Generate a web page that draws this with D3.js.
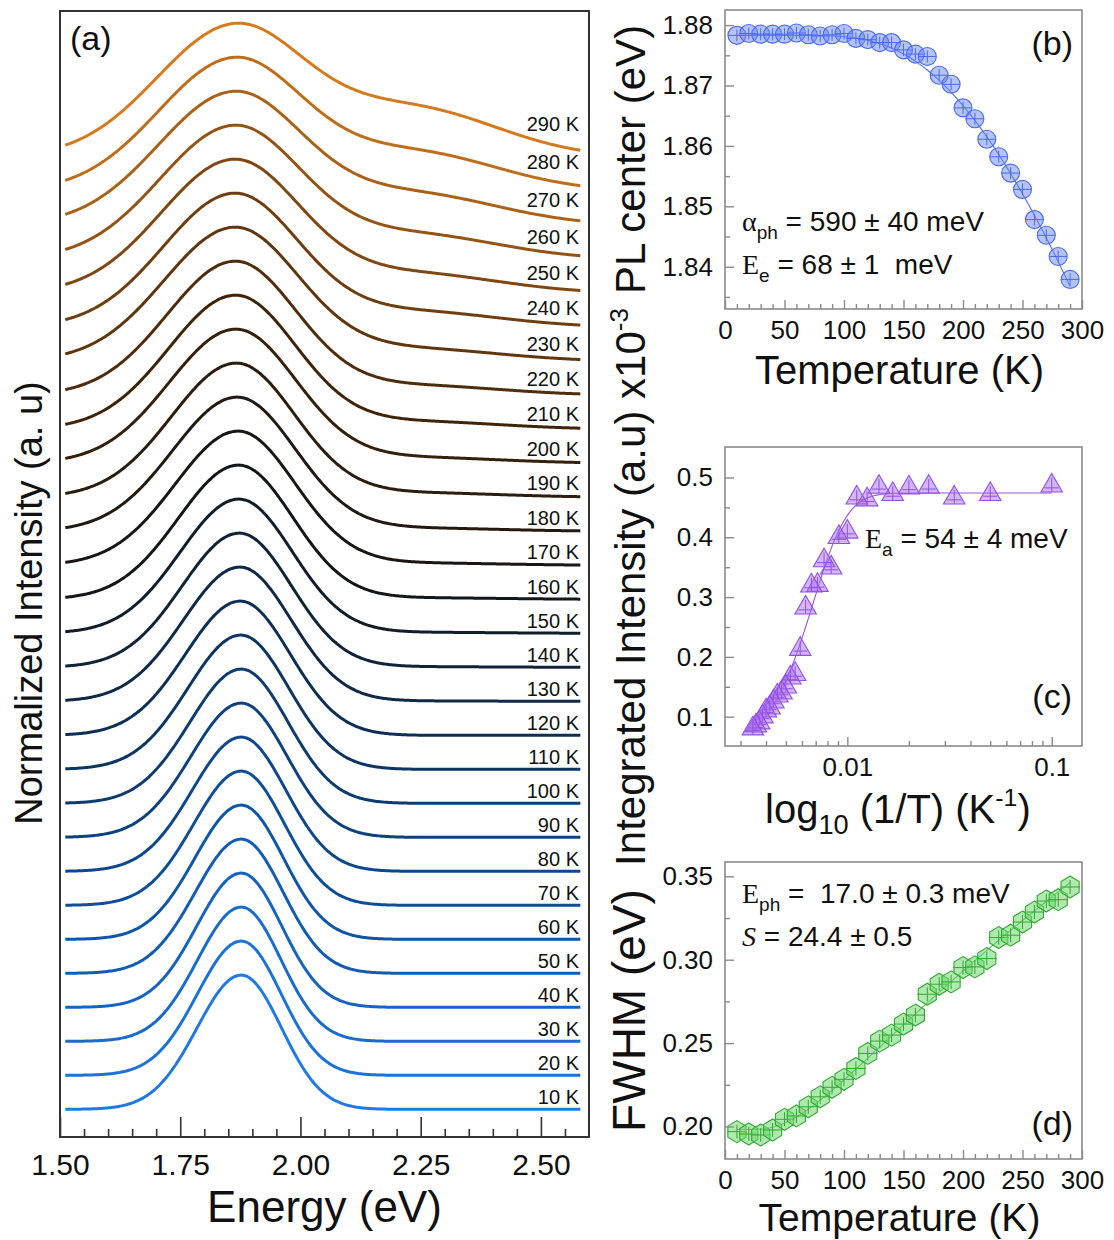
<!DOCTYPE html>
<html>
<head>
<meta charset="utf-8">
<script src="https://cdn.jsdelivr.net/npm/d3@7"></script>
<style>
  body { margin: 0; background: #fff; }
  svg { display: block; }
  text { font-family: "Liberation Sans", Arial, Helvetica, sans-serif; fill: #111; }
</style>
</head>
<body>
<svg id="fig" width="1114" height="1240"></svg>
<script>
// ---------------- data ----------------
const temperatures = [10, 20, 30, 40, 50, 60, 70, 80, 90, 100, 110, 120, 130, 140, 150,
                      160, 170, 180, 190, 200, 210, 220, 230, 240, 250, 260, 270, 280, 290];

// (a) normalized PL spectra: apparent peak energy (eV) and high-energy shoulder weight
const peakEnergy = [1.877, 1.877, 1.877, 1.877, 1.877, 1.877, 1.877, 1.877, 1.877, 1.877,
                    1.876, 1.875, 1.874, 1.873, 1.872, 1.871, 1.870, 1.868, 1.866, 1.865,
                    1.864, 1.863, 1.862, 1.861, 1.860, 1.860, 1.859, 1.859, 1.859];
const shoulderAmp = [0, 0, 0, 0, 0, 0, 0, 0, 0, 0,
                     0, 0, 0.003, 0.005, 0.008, 0.012, 0.018, 0.025, 0.035, 0.045,
                     0.06, 0.075, 0.095, 0.12, 0.15, 0.19, 0.24, 0.30, 0.38];
const shoulderCenter = 2.23;   // eV
const shoulderWidth = 0.18;    // eV (Gaussian sigma)
const lowSideStretch = 1.1;    // low-energy side of the main band is slightly broader
const spectrumRange = [1.511, 2.583];

// colours of the spectra along temperature
const colorTemps = [10, 60, 120, 165, 210, 250, 290];
const colorStops = ["#2079e4", "#0f55a8", "#0d2f55", "#141414", "#3f240a", "#7f4712", "#d57a1e"];

// (b) PL peak centre (eV)
const plCenter = [1.8783, 1.8786, 1.8785, 1.8785, 1.8785, 1.8787, 1.8784, 1.8782, 1.8784, 1.8786,
                  1.8778, 1.8776, 1.8771, 1.8771, 1.8759, 1.8752, 1.8748, 1.8717, 1.8702, 1.8663,
                  1.8645, 1.8611, 1.8582, 1.8555, 1.8528, 1.8478, 1.8452, 1.8417, 1.8379];
const bFit = { E0: 1.8783, alpha: 0.590, Ee: 0.068 };   // eV

// (c) integrated intensity (a.u. x10^-3)
const integratedIntensity = [0.486, 0.472, 0.466, 0.484, 0.483, 0.472, 0.484, 0.463, 0.466, 0.409,
                             0.400, 0.349, 0.361, 0.320, 0.319, 0.282, 0.213, 0.171, 0.165, 0.150,
                             0.140, 0.135, 0.125, 0.115, 0.110, 0.100, 0.090, 0.085, 0.080];
const cFit = { I0: 0.474, A: 45, Ea: 0.054 };

// (d) FWHM (eV)
const fwhm = [0.1969, 0.1955, 0.1949, 0.1979, 0.2043, 0.2063, 0.2118, 0.2178, 0.2235, 0.2283,
              0.2348, 0.2438, 0.2512, 0.2548, 0.2614, 0.2668, 0.2793, 0.2853, 0.2867, 0.2953,
              0.2957, 0.3007, 0.3133, 0.3147, 0.3226, 0.3286, 0.3352, 0.3360, 0.3436];
const dFit = { S: 24.4, Eph: 0.0170 };

const kB = 8.617e-5; // eV/K

// ---------------- figure ----------------
const svg = d3.select("#fig");
const serif = '"Liberation Serif", "Times New Roman", serif';

// ===== panel (a) =====
const A = { left: 60, right: 589, top: 11, bottom: 1137 };
const xA = d3.scaleLinear().domain([1.5, 2.6]).range([A.left, A.right]);
const yA = d3.scaleLinear().domain([-0.206, 8.18]).range([A.bottom, A.top]);
const offsetStep = 0.2532;
const colorA = d3.scaleLinear().domain(colorTemps).range(colorStops).interpolate(d3.interpolateRgb);
const energyGrid = d3.range(spectrumRange[0], spectrumRange[1] + 1e-9, 0.003);

function spectrum(i) {
  const c = peakEnergy[i], s = fwhm[i] / 2.3548, a = shoulderAmp[i];
  const raw = energyGrid.map(e => {
    const sl = e < c ? s * lowSideStretch : s;
    return Math.exp(-((e - c) ** 2) / (2 * sl * sl)) +
           a * Math.exp(-((e - shoulderCenter) ** 2) / (2 * shoulderWidth ** 2));
  });
  const m = d3.max(raw);
  return energyGrid.map((e, k) => ({ e, v: raw[k] / m + i * offsetStep }));
}

const gA = svg.append("g");
const lineA = d3.line().x(d => xA(d.e)).y(d => yA(d.v)).curve(d3.curveBasis);
temperatures.forEach((T, i) => {
  const pts = spectrum(i);
  gA.append("path").attr("d", lineA(pts)).attr("fill", "none")
    .attr("stroke", colorA(T)).attr("stroke-width", 3).attr("stroke-linejoin", "round");
  const near = pts.find(p => p.e >= 2.46);
  gA.append("text").attr("x", 579).attr("y", yA(near.v) - 5)
    .attr("text-anchor", "end").attr("font-size", 20).text(`${T} K`);
});

// bottom axis of (a): long major ticks, short minor ticks, all inward
const axA = svg.append("g").attr("transform", `translate(0,${A.bottom})`)
  .call(d3.axisBottom(xA).tickValues([1.5, 1.75, 2.0, 2.25, 2.5]).tickFormat(d3.format(".2f"))
    .tickSizeInner(-20).tickSizeOuter(0).tickPadding(17));
axA.select(".domain").remove();
axA.selectAll("line").attr("stroke", "#333").attr("stroke-width", 1.6);
axA.selectAll("text").attr("font-size", 30).attr("fill", "#111");
const axAm = svg.append("g").attr("transform", `translate(0,${A.bottom})`)
  .call(d3.axisBottom(xA).tickValues(d3.range(1.55, 2.6, 0.05).filter(v => Math.abs(v * 4 - Math.round(v * 4)) > 0.01))
    .tickFormat("").tickSizeInner(-8).tickSizeOuter(0));
axAm.select(".domain").remove();
axAm.selectAll("line").attr("stroke", "#333").attr("stroke-width", 1.6);

svg.append("rect").attr("x", A.left).attr("y", A.top)
  .attr("width", A.right - A.left).attr("height", A.bottom - A.top)
  .attr("fill", "none").attr("stroke", "#333").attr("stroke-width", 2);

svg.append("text").attr("x", 70).attr("y", 50).attr("font-size", 34).text("(a)");
svg.append("text").attr("x", (A.left + A.right) / 2).attr("y", 1222)
  .attr("text-anchor", "middle").attr("font-size", 44).text("Energy (eV)");
svg.append("text").attr("transform", "translate(42,603) rotate(-90)")
  .attr("text-anchor", "middle").attr("font-size", 38).text("Normalized Intensity (a. u)");

// ===== helpers for panels (b)-(d) =====
const frameColor = "#8a8a8a";
function frame(P) {
  svg.append("rect").attr("x", P.left).attr("y", P.top)
    .attr("width", P.right - P.left).attr("height", P.bottom - P.top)
    .attr("fill", "none").attr("stroke", frameColor).attr("stroke-width", 1.6);
}
function styleAxis(g, fontSize) {
  g.select(".domain").remove();
  g.selectAll("line").attr("stroke", frameColor).attr("stroke-width", 1.4);
  g.selectAll("text").attr("font-size", fontSize).attr("fill", "#111");
}
function axes(P, x, y, xMajor, xMinor, xFmt, yMajor, yMinor, yFmt) {
  styleAxis(svg.append("g").attr("transform", `translate(0,${P.bottom})`)
    .call(d3.axisBottom(x).tickValues(xMajor).tickFormat(xFmt)
      .tickSizeInner(-9).tickSizeOuter(0).tickPadding(12)), 26);
  styleAxis(svg.append("g").attr("transform", `translate(0,${P.bottom})`)
    .call(d3.axisBottom(x).tickValues(xMinor).tickFormat("").tickSizeInner(-5).tickSizeOuter(0)), 26);
  styleAxis(svg.append("g").attr("transform", `translate(${P.left},0)`)
    .call(d3.axisLeft(y).tickValues(yMajor).tickFormat(yFmt)
      .tickSizeInner(-9).tickSizeOuter(0).tickPadding(12)), 26);
  styleAxis(svg.append("g").attr("transform", `translate(${P.left},0)`)
    .call(d3.axisLeft(y).tickValues(yMinor).tickFormat("").tickSizeInner(-5).tickSizeOuter(0)), 26);
  frame(P);
}
function mathLabel(x, y, size, parts) {
  const t = svg.append("text").attr("x", x).attr("y", y).attr("font-size", size)
    .attr("xml:space", "preserve");
  parts.forEach(p => {
    const s = t.append("tspan").text(p.t);
    if (p.serif) s.attr("font-family", serif);
    if (p.italic) s.attr("font-style", "italic");
    if (p.sub) s.attr("font-size", size * 0.68).attr("dy", size * 0.28);
    if (p.sup) s.attr("font-size", size * 0.62).attr("dy", -size * 0.42);
    if (p.back) s.attr("dy", p.back);
  });
  return t;
}
const tempMajor = [0, 50, 100, 150, 200, 250, 300];
const tempMinor = d3.range(10, 300, 10).filter(v => v % 50 !== 0);

// ===== panel (b) =====
const B = { left: 725, right: 1082, top: 10, bottom: 309 };
const xB = d3.scaleLinear().domain([0, 300]).range([B.left, B.right]);
const yB = d3.scaleLinear().domain([1.833, 1.8825]).range([B.bottom, B.top]);
const bFitValue = T => bFit.E0 - bFit.alpha / (Math.exp(bFit.Ee / (kB * T)) - 1);
const bFitPts = d3.range(temperatures[0], temperatures[temperatures.length - 1] + 0.1, 2)
  .map(T => [T, bFitValue(T)]);
svg.append("path").attr("d", d3.line().x(d => xB(d[0])).y(d => yB(d[1]))(bFitPts))
  .attr("fill", "none").attr("stroke", "#4f6ff0").attr("stroke-width", 1.1);
temperatures.forEach((T, i) => {
  const g = svg.append("g").attr("transform", `translate(${xB(T)},${yB(plCenter[i])})`);
  g.append("circle").attr("r", 9).attr("fill", "rgba(105,135,245,0.5)")
    .attr("stroke", "#4a6af0").attr("stroke-width", 1.1);
  g.append("line").attr("x1", -9).attr("x2", 9).attr("stroke", "#4a6af0").attr("stroke-width", 1);
  g.append("line").attr("y1", -6).attr("y2", 6).attr("stroke", "#4a6af0").attr("stroke-width", 1);
});
axes(B, xB, yB, tempMajor, tempMinor, d3.format("d"),
     [1.84, 1.85, 1.86, 1.87, 1.88], [1.835, 1.845, 1.855, 1.865, 1.875], d3.format(".2f"));
svg.append("text").attr("x", 1073).attr("y", 55).attr("text-anchor", "end").attr("font-size", 34).text("(b)");
mathLabel(742, 231, 28, [{ t: "α", serif: true }, { t: "ph", sub: true }, { t: " = 590 ± 40 meV", back: -28 * 0.28 }]);
mathLabel(742, 274, 28, [{ t: "E", serif: true }, { t: "e", sub: true }, { t: " = 68 ± 1  meV", back: -28 * 0.28 }]);
svg.append("text").attr("x", (B.left + B.right) / 2 - 4).attr("y", 384)
  .attr("text-anchor", "middle").attr("font-size", 40).text("Temperature (K)");
svg.append("text").attr("transform", `translate(645,${(B.top + B.bottom) / 2}) rotate(-90)`)
  .attr("text-anchor", "middle").attr("font-size", 42).text("PL center (eV)");

// ===== panel (c) =====
const C = { left: 725, right: 1082, top: 447, bottom: 746 };
const xC = d3.scaleLog().domain([0.00252, 0.1406]).range([C.left, C.right]);
const yC = d3.scaleLinear().domain([0.051, 0.551]).range([C.bottom, C.top]);
const cFitValue = T => cFit.I0 / (1 + cFit.A * Math.exp(-cFit.Ea / (kB * T)));
const cFitPts = d3.range(temperatures[0], temperatures[temperatures.length - 1] + 0.1, 1)
  .map(T => [1 / T, cFitValue(T)]);
svg.append("path").attr("d", d3.line().x(d => xC(d[0])).y(d => yC(d[1]))(cFitPts))
  .attr("fill", "none").attr("stroke", "#9455e6").attr("stroke-width", 1.1);
const tri = d3.symbol().type(d3.symbolTriangle).size(200)();
temperatures.forEach((T, i) => {
  const g = svg.append("g").attr("transform", `translate(${xC(1 / T)},${yC(integratedIntensity[i])})`);
  g.append("path").attr("d", tri).attr("fill", "rgba(170,110,240,0.5)")
    .attr("stroke", "#9050e2").attr("stroke-width", 1.1);
  g.append("line").attr("x1", -7).attr("x2", 7).attr("y1", 2).attr("y2", 2).attr("stroke", "#9050e2").attr("stroke-width", 1);
  g.append("line").attr("y1", -8).attr("y2", 6).attr("stroke", "#9050e2").attr("stroke-width", 1);
});
const logMinor = [0.003, 0.004, 0.005, 0.006, 0.007, 0.008, 0.009, 0.02, 0.03, 0.04, 0.05, 0.06, 0.07, 0.08, 0.09];
axes(C, xC, yC, [0.01, 0.1], logMinor, d => (d === 0.01 ? "0.01" : "0.1"),
     [0.1, 0.2, 0.3, 0.4, 0.5], [0.15, 0.25, 0.35, 0.45], d3.format(".1f"));
svg.append("text").attr("x", 1072).attr("y", 708).attr("text-anchor", "end").attr("font-size", 34).text("(c)");
mathLabel(865, 548, 28, [{ t: "E", serif: true }, { t: "a", sub: true }, { t: " = 54 ± 4 meV", back: -28 * 0.28 }]);
mathLabel(765, 823, 40, [{ t: "log" }, { t: "10", sub: true }, { t: " (1/T) (K", back: -40 * 0.28 }, { t: "-1", sup: true }, { t: ")", back: 40 * 0.42 }]);
const ylc = svg.append("text").attr("transform", `translate(645,587) rotate(-90)`)
  .attr("text-anchor", "middle").attr("font-size", 42);
ylc.append("tspan").text("Integrated Intensity (a.u) x10");
ylc.append("tspan").attr("font-size", 26).attr("dy", -17).text("-3");

// ===== panel (d) =====
const D = { left: 725, right: 1082, top: 862, bottom: 1159 };
const xD = d3.scaleLinear().domain([0, 300]).range([D.left, D.right]);
const yD = d3.scaleLinear().domain([0.1805, 0.3586]).range([D.bottom, D.top]);
const dFitValue = T => 2.36 * Math.sqrt(dFit.S) * dFit.Eph * Math.sqrt(1 / Math.tanh(dFit.Eph / (2 * kB * T)));
const dFitPts = d3.range(temperatures[0], temperatures[temperatures.length - 1] + 0.1, 2)
  .map(T => [T, dFitValue(T)]);
svg.append("path").attr("d", d3.line().x(d => xD(d[0])).y(d => yD(d[1]))(dFitPts))
  .attr("fill", "none").attr("stroke", "#55bb55").attr("stroke-width", 1.1);
const hexR = 11;
const hex = d3.line()(d3.range(6).map(k => {
  const a = (-90 + 60 * k) * Math.PI / 180;
  return [hexR * Math.cos(a) * 0.95, hexR * Math.sin(a)];
})) + "Z";
temperatures.forEach((T, i) => {
  const g = svg.append("g").attr("transform", `translate(${xD(T)},${yD(fwhm[i])})`);
  g.append("path").attr("d", hex).attr("fill", "rgba(110,215,110,0.55)")
    .attr("stroke", "#33a833").attr("stroke-width", 1.1);
  g.append("line").attr("x1", -10).attr("x2", 10).attr("stroke", "#33a833").attr("stroke-width", 1);
  g.append("line").attr("y1", -7).attr("y2", 7).attr("stroke", "#33a833").attr("stroke-width", 1);
});
axes(D, xD, yD, tempMajor, tempMinor, d3.format("d"),
     [0.20, 0.25, 0.30, 0.35], [0.225, 0.275, 0.325], d3.format(".2f"));
svg.append("text").attr("x", 1073).attr("y", 1135).attr("text-anchor", "end").attr("font-size", 34).text("(d)");
mathLabel(742, 903, 28, [{ t: "E", serif: true }, { t: "ph", sub: true }, { t: " =  17.0 ± 0.3 meV", back: -28 * 0.28 }]);
mathLabel(742, 946, 28, [{ t: "S", serif: true, italic: true }, { t: " = 24.4 ± 0.5" }]);
svg.append("text").attr("x", (D.left + D.right) / 2 - 4).attr("y", 1231)
  .attr("text-anchor", "middle").attr("font-size", 39).text("Temperature (K)");
svg.append("text").attr("transform", `translate(645,${(D.top + D.bottom) / 2}) rotate(-90)`)
  .attr("text-anchor", "middle").attr("font-size", 46).text("FWHM (eV)");
</script>
</body>
</html>
